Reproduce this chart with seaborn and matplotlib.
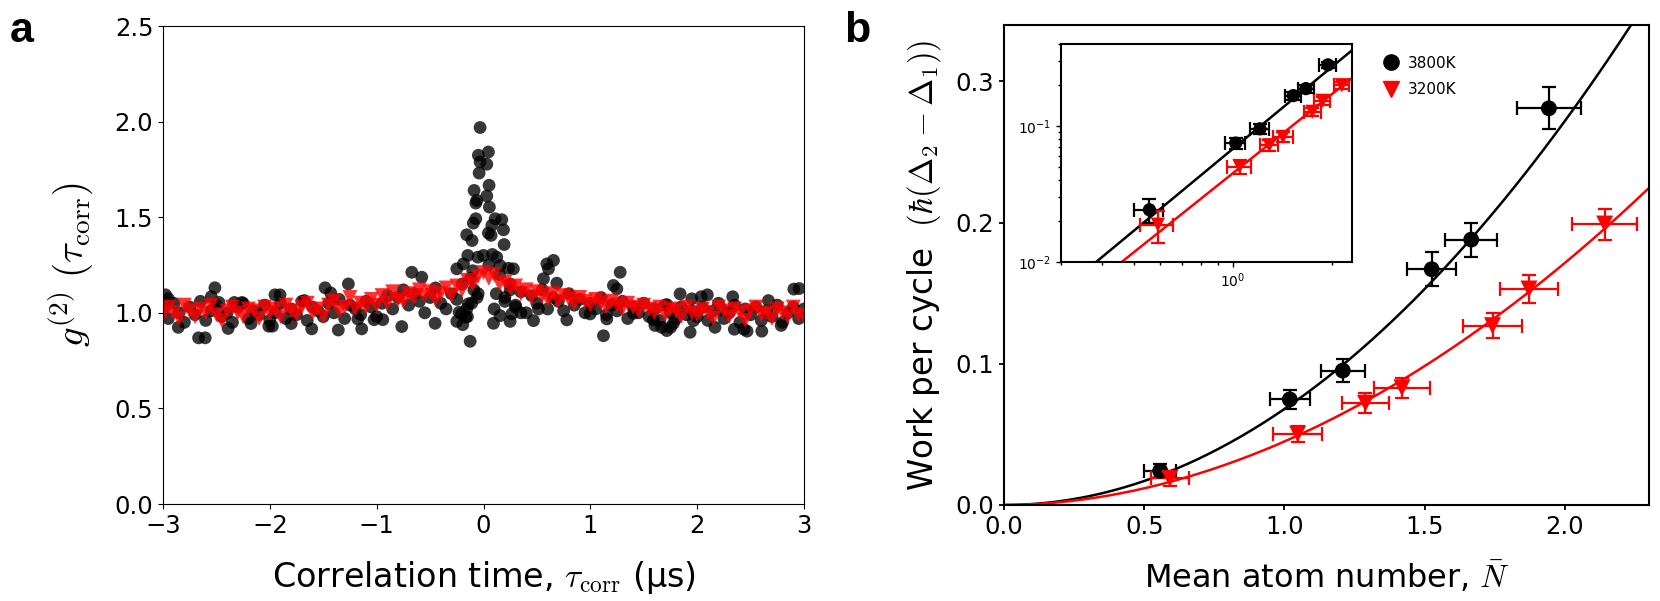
import numpy as np
import pandas as pd
import seaborn as sns
import matplotlib.pyplot as plt
from matplotlib.lines import Line2D
from matplotlib.ticker import NullFormatter

plt.rcParams['mathtext.fontset'] = 'cm'
plt.rcParams['font.family'] = ['DejaVu Sans']

# ---- panel a: g2(tau) ----
tau_grid = [
    -3.00, -2.95, -2.90, -2.85, -2.80, -2.75, -2.70, -2.65, -2.60, -2.55, -2.50,
    -2.45, -2.40, -2.35, -2.30, -2.25, -2.20, -2.15, -2.10, -2.05, -2.00,
    -1.95, -1.90, -1.85, -1.80, -1.75, -1.70, -1.65, -1.60, -1.55, -1.50,
    -1.45, -1.40, -1.35, -1.30, -1.25, -1.20, -1.15, -1.10, -1.05, -1.00,
    -0.95, -0.90, -0.85, -0.80, -0.75, -0.70, -0.65, -0.60, -0.55, -0.50,
    -0.45, -0.40, -0.35, -0.30, -0.25, -0.20, -0.15, -0.10, -0.05, 0.00,
    0.05, 0.10, 0.15, 0.20, 0.25, 0.30, 0.35, 0.40, 0.45, 0.50,
    0.55, 0.60, 0.65, 0.70, 0.75, 0.80, 0.85, 0.90, 0.95, 1.00,
    1.05, 1.10, 1.15, 1.20, 1.25, 1.30, 1.35, 1.40, 1.45, 1.50,
    1.55, 1.60, 1.65, 1.70, 1.75, 1.80, 1.85, 1.90, 1.95, 2.00,
    2.05, 2.10, 2.15, 2.20, 2.25, 2.30, 2.35, 2.40, 2.45, 2.50,
    2.55, 2.60, 2.65, 2.70, 2.75, 2.80, 2.85, 2.90, 2.95, 3.00,
]
g2_red = [
    0.99, 1.03, 1.00, 0.97, 1.04, 1.01, 0.98, 1.02, 1.00, 1.04, 0.99,
    0.96, 1.01, 1.03, 1.00, 0.98, 1.02, 1.01, 0.97, 1.03, 1.00,
    1.02, 0.98, 1.04, 1.01, 0.99, 1.03, 1.05, 1.00, 1.02, 0.98,
    1.04, 1.06, 1.01, 1.03, 1.08, 1.02, 1.05, 1.03, 1.07, 1.04,
    1.09, 1.05, 1.11, 1.07, 1.06, 1.10, 1.08, 1.12, 1.09, 1.11,
    1.07, 1.10, 1.13, 1.09, 1.14, 1.12, 1.17, 1.15, 1.19, 1.21,
    1.18, 1.20, 1.15, 1.16, 1.13, 1.14, 1.10, 1.12, 1.08, 1.11,
    1.09, 1.07, 1.10, 1.06, 1.09, 1.07, 1.05, 1.08, 1.06, 1.04,
    1.07, 1.05, 1.03, 1.06, 1.04, 1.02, 1.05, 1.03, 1.01, 1.04,
    1.02, 1.00, 1.03, 0.99, 1.02, 1.01, 0.98, 1.03, 1.00, 0.99,
    1.02, 1.00, 0.97, 1.03, 1.01, 0.98, 1.02, 1.00, 0.96, 1.01,
    1.03, 0.99, 1.00, 0.97, 1.02, 1.00, 0.98, 1.03, 0.99, 0.98,
]
g2_black_grid = [
    1.02, 0.97, 1.05, 1.00, 0.95, 1.03, 0.99, 1.06, 0.96, 1.01, 1.04,
    0.98, 1.00, 0.95, 1.03, 1.05, 0.97, 1.01, 0.99, 1.04, 0.96,
    1.00, 1.05, 0.97, 1.02, 0.99, 1.06, 0.96, 1.03, 1.01, 0.98,
    1.05, 1.00, 1.07, 0.97, 1.04, 1.02, 0.99, 1.06, 1.03, 0.98,
    1.05, 1.09, 1.02, 1.08, 1.12, 1.04, 1.10, 1.06, 1.00, 1.08,
    1.13, 1.05, 1.02, 1.10, 1.07, 1.15, 0.98, 1.22, 1.10, 1.30,
    1.25, 1.02, 1.20, 1.08, 1.15, 1.04, 1.11, 1.00, 1.09, 1.05,
    1.12, 1.02, 1.08, 1.06, 1.01, 1.10, 1.04, 1.07, 1.00, 1.05,
    1.02, 1.08, 0.99, 1.04, 1.01, 1.06, 0.97, 1.03, 1.00, 1.05,
    0.98, 1.02, 0.96, 1.04, 1.00, 0.97, 1.03, 0.99, 1.01, 0.98,
    1.03, 0.96, 1.01, 1.05, 0.97, 1.00, 1.04, 0.95, 1.02, 0.99,
    1.03, 0.96, 1.01, 0.98, 1.04, 0.95, 1.00, 1.03, 0.97, 1.02,
]
tau_black_extra = [
    -0.032, -0.048, 0.046, -0.032, 0.031, -0.041, 0.052, -0.088, 0.031, -0.063,
    -0.072, 0.055, -0.072, -0.095, 0.109, 0.171, 0.078, 0.187, 0.046, 0.071,
    -0.157, -0.107, 0.193, -0.147, -0.053, 0.083, 0.124, -0.250, -0.188, 0.233,
    0.280, 0.155, -0.120, -0.090, -0.060, -0.110, 0.120, 0.200, 0.250, 0.300, 0.350,
    0.593, 0.655, 0.608, -0.671, -0.578, 0.561, 1.279, 0.686, -1.483, -1.265,
    -0.125, 1.123, -1.608, -1.359, -1.140, -0.765, -0.453, -0.250, -0.194, -0.204,
    -0.166, -0.228, -0.141, -0.157, 0.093, 0.155, 0.249, 0.265, 0.468, 0.514,
    0.780, 0.998, 1.154, 1.404, 1.591, 1.716, 1.778, 1.934, 1.965, 1.840,
    1.950, 1.716, 1.216, 1.248,
    -2.976, -2.950, -2.857, -2.667, -2.605, -2.548, -2.514, -2.476, -2.390, -2.333,
    -2.262, -2.176, -2.010, -1.976, -1.952, -1.905, -1.800, -1.676, -1.430, -1.176,
    -1.024, -0.943,
    1.605, 1.667, 1.752, 2.038, 2.095, 2.167, 2.238, 2.333, 2.348, 2.438,
    2.467, 2.605, 2.667, 2.786, 2.905, 2.955,
]
g2_black_extra = [
    1.969, 1.824, 1.841, 1.789, 1.777, 1.731, 1.667, 1.640, 1.611, 1.588,
    1.574, 1.553, 1.492, 1.469, 1.492, 1.487, 1.457, 1.434, 1.417, 1.405,
    1.408, 1.378, 1.357, 1.300, 1.291, 1.305, 1.291, 1.230, 1.256, 1.233,
    1.230, 1.247, 1.180, 1.120, 1.080, 1.050, 1.100, 1.060, 1.120, 1.030, 1.000,
    1.256, 1.274, 1.230, 1.212, 1.186, 1.178, 1.212, 1.155, 1.131, 1.151,
    0.851, 0.880, 0.916, 0.910, 0.916, 0.928, 0.945, 0.955, 0.938, 0.994,
    0.977, 1.003, 1.047, 1.020, 0.945, 0.985, 0.955, 0.994, 0.959, 1.020,
    0.963, 0.994, 0.968, 0.997, 0.963, 0.907, 0.945, 0.898, 0.959, 1.099,
    1.073, 1.043, 1.143, 1.125,
    1.094, 1.074, 0.924, 0.869, 0.869, 1.084, 1.131, 1.054, 0.918, 1.054,
    1.054, 0.944, 0.930, 0.930, 1.094, 1.094, 0.944, 1.064, 1.104, 0.968,
    0.964, 0.964,
    0.934, 0.924, 0.924, 1.084, 1.094, 0.924, 1.014, 1.084, 0.914, 0.914,
    0.904, 0.904, 1.064, 0.934, 1.124, 1.127,
]

# ---- panel b: work per cycle vs mean atom number ----
n_3800 = [0.557, 1.019, 1.208, 1.525, 1.666, 1.943]
w_3800 = [0.0242, 0.0748, 0.0952, 0.167, 0.188, 0.281]
nerr_3800 = [0.057, 0.071, 0.078, 0.087, 0.092, 0.115]
werr_3800 = [0.005, 0.007, 0.008, 0.012, 0.012, 0.015]

n_3200 = [0.591, 1.047, 1.289, 1.419, 1.742, 1.872, 2.142]
w_3200 = [0.0188, 0.0503, 0.0721, 0.083, 0.127, 0.153, 0.199]
nerr_3200 = [0.068, 0.087, 0.085, 0.099, 0.104, 0.103, 0.115]
werr_3200 = [0.005, 0.006, 0.007, 0.007, 0.009, 0.010, 0.011]

# power-law fits W = amp * N**pow
fit_amp = {'3800K': 0.068, '3200K': 0.045}
fit_pow = {'3800K': 2.0, '3200K': 1.93}

fig = plt.figure(figsize=(16.6, 6.01), dpi=100)
ax_a = fig.add_axes([163/1660, 1 - 504/601, 641/1660, 478/601])
ax_b = fig.add_axes([1004/1660, 1 - 505/601, 645/1660, 480/601])
ax_in = fig.add_axes([1061/1660, 1 - 262/601, 291/1660, 218/601])

df_black = pd.DataFrame({'tau': tau_grid + tau_black_extra,
                         'g2': g2_black_grid + g2_black_extra})
df_red = pd.DataFrame({'tau': tau_grid, 'g2': g2_red})
sns.scatterplot(data=df_black, x='tau', y='g2', color='k', alpha=0.78,
                s=85, edgecolor='none', ax=ax_a)
sns.scatterplot(data=df_red, x='tau', y='g2', color='red', marker='v', alpha=0.8,
                s=115, edgecolor='none', ax=ax_a)
ax_a.set_xlim(-3, 3)
ax_a.set_ylim(0, 2.5)
ax_a.set_xticks([-3, -2, -1, 0, 1, 2, 3])
ax_a.set_yticks([0, 0.5, 1.0, 1.5, 2.0, 2.5])
ax_a.tick_params(labelsize=17.5)
ax_a.set_xlabel(r'Correlation time, $\tau_{\rm corr}$ (μs)', fontsize=24, labelpad=15)
ax_a.set_ylabel(r'$g^{(2)}\ (\tau_{\rm corr})$', fontsize=28, labelpad=14)

sets = [('3800K', 'k', 'o', n_3800, w_3800, nerr_3800, werr_3800, 130),
        ('3200K', 'red', 'v', n_3200, w_3200, nerr_3200, werr_3200, 150)]
n_fit = np.linspace(0.001, 2.3, 300)

for ax, size_scale in [(ax_b, 1.0), (ax_in, 0.7)]:
    for name, c, m, n, w, ne, we, s in sets:
        ax.errorbar(n, w, xerr=ne, yerr=we, fmt='none', ecolor=c,
                    elinewidth=1.6, capsize=5, capthick=1.6, zorder=2)
        sns.scatterplot(x=n, y=w, color=c, marker=m, s=s * size_scale,
                        edgecolor='none', ax=ax, zorder=3)
        sns.lineplot(x=n_fit, y=fit_amp[name] * n_fit ** fit_pow[name],
                     color=c, lw=1.8, ax=ax, zorder=1)

ax_b.set_xlim(0, 2.3)
ax_b.set_ylim(0, 0.34)
ax_b.set_xticks([0, 0.5, 1.0, 1.5, 2.0])
ax_b.set_yticks([0, 0.1, 0.2, 0.3])
ax_b.tick_params(labelsize=17.5, width=1.3)
ax_b.set_xlabel(r'Mean atom number, $\bar{N}$', fontsize=23, labelpad=15)
ax_b.set_ylabel(r'Work per cycle  $(\hbar(\Delta_2 - \Delta_1))$', fontsize=23.5, labelpad=9)
for sp in ax_b.spines.values():
    sp.set_linewidth(1.5)

ax_in.set_xscale('log')
ax_in.set_yscale('log')
ax_in.set_xlim(0.3, 2.3)
ax_in.set_ylim(0.01, 0.4)
ax_in.xaxis.set_minor_formatter(NullFormatter())
ax_in.yaxis.set_minor_formatter(NullFormatter())
ax_in.tick_params(which='both', labelsize=10, width=1.0)
ax_in.set_xlabel('')
ax_in.set_ylabel('')
for sp in ax_in.spines.values():
    sp.set_linewidth(1.5)

handles = [Line2D([], [], color='k', marker='o', ls='none', markersize=11),
           Line2D([], [], color='red', marker='v', ls='none', markersize=12)]
ax_b.legend(handles, ['3800K', '3200K'], loc='upper left', frameon=False,
            bbox_to_anchor=(0.565, 0.965), fontsize=11,
            handletextpad=0.5, handlelength=1.2, labelspacing=0.75)

fig.text(10/1660, 1 - 41.7/601, 'a', fontsize=31, fontweight='bold',
         family='Liberation Sans')
fig.text(844/1660, 1 - 41.7/601, 'b', fontsize=31, fontweight='bold',
         family='Liberation Sans')

fig.savefig('out.png', dpi=100)
